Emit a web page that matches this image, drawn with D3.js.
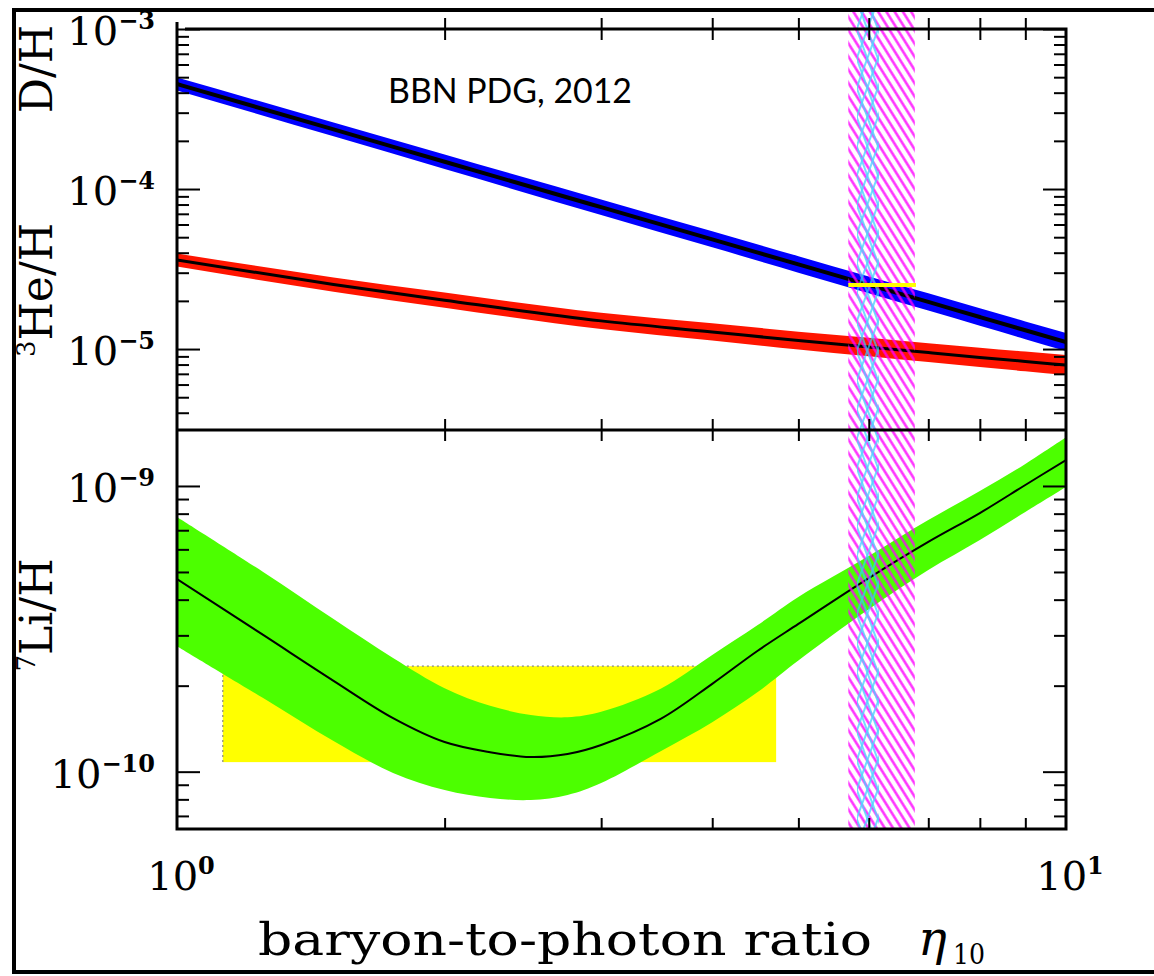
<!DOCTYPE html>
<html>
<head>
<meta charset="utf-8">
<script src="https://cdn.jsdelivr.net/npm/d3@7"></script>
<style>
body { margin: 0; background: #fff; }
svg text { font-family: "DejaVu Serif", "Liberation Serif", serif; fill: #000; }
</style>
</head>
<body>
<svg id="chart" width="1154" height="976"></svg>
<script>
// eta_10 grid for D/H and 3He/H
var eta = [1, 1.5, 2, 3, 4, 5, 6, 7, 8, 9, 10];
var dh = [4.53e-4, 2.36e-4, 1.48e-4, 7.7e-5, 4.85e-5, 3.38e-5, 2.52e-5, 1.97e-5, 1.585e-5, 1.31e-5, 1.107e-5];
var dhErr = [0.098, 0.105, 0.110, 0.117, 0.122, 0.126, 0.129, 0.132, 0.134, 0.136, 0.138];
var he3 = [3.60e-5, 2.53e-5, 2.02e-5, 1.50e-5, 1.28e-5, 1.13e-5, 1.03e-5, 9.5e-6, 8.87e-6, 8.37e-6, 7.94e-6];
var he3Err = [0.098, 0.108, 0.115, 0.125, 0.132, 0.137, 0.142, 0.146, 0.149, 0.152, 0.155];

// 7Li/H with its band
var etaLi = [1, 1.25, 1.5, 1.75, 2, 2.25, 2.5, 2.75, 3, 3.5, 4, 4.5, 5, 6, 7, 8, 9, 10];
var li7 = [4.72e-10, 3.01e-10, 2.08e-10, 1.54e-10, 1.27e-10, 1.17e-10, 1.125e-10, 1.153e-10, 1.24e-10, 1.53e-10, 2.03e-10, 2.65e-10, 3.29e-10, 4.76e-10, 6.37e-10, 8.04e-10, 1.008e-9, 1.233e-9];
var li7Hi = [7.79e-10, 5.00e-10, 3.42e-10, 2.50e-10, 1.96e-10, 1.70e-10, 1.58e-10, 1.55e-10, 1.62e-10, 1.95e-10, 2.56e-10, 3.26e-10, 4.09e-10, 5.69e-10, 7.60e-10, 9.60e-10, 1.194e-9, 1.48e-9];
var li7Lo = [2.75e-10, 1.81e-10, 1.28e-10, 9.9e-11, 8.63e-11, 8.09e-11, 7.96e-11, 8.29e-11, 9.13e-11, 1.18e-10, 1.49e-10, 1.90e-10, 2.45e-10, 3.70e-10, 5.08e-10, 6.47e-10, 8.11e-10, 9.92e-10];

// observations
var etaBand = [5.69, 6.76];   // magenta hatch
var etaCmb = [5.82, 6.16];    // cyan hatch
var dhObsEta = [5.69, 6.78];
var dhObs = 2.51e-5;
var liObsEta = [1.126, 4.72];
var liObs = [1.08e-10, 2.34e-10];

// ticks
var xMajor = [1, 10], xMajorExp = ["0", "1"];
var topMajor = [1e-3, 1e-4, 1e-5], topMajorExp = ["\u22123", "\u22124", "\u22125"];
var botMajor = [1e-9, 1e-10], botMajorExp = ["\u22129", "\u221210"];

var svg = d3.select("#chart"),
    left = 177, right = 1066, top1 = 29, mid = 430, bot = 829;

var x = d3.scaleLog().domain([1, 10]).range([left, right]);
var yTop = d3.scaleLog().domain([3.12e-6, 1e-3]).range([mid, top1]);
var yBot = d3.scaleLog().domain([6.3e-11, 1.57e-9]).range([bot, mid]);

var defs = svg.append("defs");
defs.append("clipPath").attr("id", "clipTop").append("rect")
    .attr("x", left).attr("y", top1).attr("width", right - left).attr("height", mid - top1);
defs.append("clipPath").attr("id", "clipBot").append("rect")
    .attr("x", left).attr("y", mid).attr("width", right - left).attr("height", bot - mid);

function hatch(id, color, w, angle, sw) {
    defs.append("pattern").attr("id", id)
        .attr("patternUnits", "userSpaceOnUse")
        .attr("width", w).attr("height", w)
        .attr("patternTransform", "rotate(" + angle + ")")
      .append("line")
        .attr("x1", w / 2).attr("x2", w / 2).attr("y1", 0).attr("y2", w)
        .attr("stroke", color).attr("stroke-width", sw);
}
hatch("hm", "#ff00ff", 7, -32, 2.4);
hatch("hc1", "#33ccff", 10, -20, 1.6);
hatch("hc2", "#33ccff", 10, 20, 1.6);

var gTop = svg.append("g").attr("clip-path", "url(#clipTop)");
var gBot = svg.append("g").attr("clip-path", "url(#clipBot)");

// ---- top panel bands
var dhData = eta.map(function (e, i) { return {eta: e, v: dh[i], lo: dh[i] / (1 + dhErr[i]), hi: dh[i] * (1 + dhErr[i])}; });
var heData = eta.map(function (e, i) { return {eta: e, v: he3[i], lo: he3[i] / (1 + he3Err[i]), hi: he3[i] * (1 + he3Err[i])}; });

var areaTop = d3.area().curve(d3.curveMonotoneX)
    .x(function (d) { return x(d.eta); })
    .y0(function (d) { return yTop(d.lo); })
    .y1(function (d) { return yTop(d.hi); });
var lineTop = d3.line().curve(d3.curveMonotoneX)
    .x(function (d) { return x(d.eta); })
    .y(function (d) { return yTop(d.v); });

gTop.append("path").datum(dhData).attr("d", areaTop).attr("fill", "#0000ff");
gTop.append("path").datum(heData).attr("d", areaTop).attr("fill", "#ff1500");

// ---- bottom panel
var liData = etaLi.map(function (e, i) { return {eta: e, v: li7[i], lo: li7Lo[i], hi: li7Hi[i]}; });

gBot.append("rect")
    .attr("x", x(liObsEta[0])).attr("y", yBot(liObs[1]))
    .attr("width", x(liObsEta[1]) - x(liObsEta[0]))
    .attr("height", yBot(liObs[0]) - yBot(liObs[1]))
    .attr("fill", "#ffff00");
gBot.append("path")
    .attr("d", "M" + x(liObsEta[0]) + "," + yBot(liObs[0]) + "V" + yBot(liObs[1]) + "H" + x(liObsEta[1]))
    .attr("fill", "none").attr("stroke", "#888").attr("stroke-width", 1.2).attr("stroke-dasharray", "2,3");

var areaBot = d3.area().curve(d3.curveCatmullRom.alpha(0.5))
    .x(function (d) { return x(d.eta); })
    .y0(function (d) { return yBot(d.lo); })
    .y1(function (d) { return yBot(d.hi); });
var lineBot = d3.line().curve(d3.curveCatmullRom.alpha(0.5))
    .x(function (d) { return x(d.eta); })
    .y(function (d) { return yBot(d.v); });

gBot.append("path").datum(liData).attr("d", areaBot).attr("fill", "#4cff00");

// ---- hatched eta bands (run above the top panel too)
var hatchG = svg.append("g").attr("opacity", 0.85);
hatchG.append("rect")
    .attr("x", x(etaBand[0])).attr("y", 12)
    .attr("width", x(etaBand[1]) - x(etaBand[0])).attr("height", bot - 12)
    .attr("fill", "url(#hm)");
["hc1", "hc2"].forEach(function (id) {
    hatchG.append("rect")
        .attr("x", x(etaCmb[0])).attr("y", 12)
        .attr("width", x(etaCmb[1]) - x(etaCmb[0])).attr("height", bot - 12)
        .attr("fill", "url(#" + id + ")");
});

// center lines on top
gTop.append("path").datum(dhData).attr("d", lineTop).attr("fill", "none").attr("stroke", "#000").attr("stroke-width", 4);
gTop.append("path").datum(heData).attr("d", lineTop).attr("fill", "none").attr("stroke", "#000").attr("stroke-width", 3);
gBot.append("path").datum(liData).attr("d", lineBot).attr("fill", "none").attr("stroke", "#000").attr("stroke-width", 2);

// observed D/H
svg.append("line")
    .attr("x1", x(dhObsEta[0])).attr("x2", x(dhObsEta[1]))
    .attr("y1", yTop(dhObs)).attr("y2", yTop(dhObs))
    .attr("stroke", "#ffff00").attr("stroke-width", 4);

// ---- ticks
function isMajor(v) { return Math.abs(Math.log10(v) - Math.round(Math.log10(v))) < 1e-6; }

function yTicks(scale) {
    var all = scale.ticks();
    var minor = all.filter(function (v) { return !isMajor(v); });
    var major = all.filter(isMajor);
    [[d3.axisLeft, left], [d3.axisRight, right]].forEach(function (a) {
        svg.append("g").attr("class", "tick-axis").attr("transform", "translate(" + a[1] + ",0)")
            .call(a[0](scale).tickValues(minor).tickSize(-12).tickFormat(""));
        svg.append("g").attr("class", "tick-axis").attr("transform", "translate(" + a[1] + ",0)")
            .call(a[0](scale).tickValues(major).tickSize(-23).tickFormat(""));
    });
}
yTicks(yTop);
yTicks(yBot);

var xMinor = x.ticks().filter(function (v) { return !isMajor(v); });
[[d3.axisTop, top1], [d3.axisBottom, top1], [d3.axisTop, mid], [d3.axisBottom, mid], [d3.axisBottom, bot]].forEach(function (a) {
    svg.append("g").attr("class", "tick-axis").attr("transform", "translate(0," + a[1] + ")")
        .call(a[0](x).tickValues(xMinor).tickSize(-11).tickFormat(""));
});
svg.selectAll(".tick-axis .domain").remove();
svg.selectAll(".tick-axis line").attr("stroke", "#000").attr("stroke-width", 2);

// ---- frames
svg.append("path")
    .attr("d", "M" + left + ",22V" + bot + "H" + right + "V" + top1 + "H" + (left + 8) +
          "M" + left + "," + mid + "H" + right)
    .attr("fill", "none").attr("stroke", "#000").attr("stroke-width", 3);
svg.append("path")
    .attr("d", "M1154,10H14V972H1154")
    .attr("fill", "none").attr("stroke", "#000").attr("stroke-width", 4);

// ---- tick labels
function yLabels(vals, exps, scale) {
    vals.forEach(function (v, i) {
        var t = svg.append("text").attr("x", 155).attr("y", scale(v) + 16)
            .attr("text-anchor", "end").attr("font-size", 40);
        t.append("tspan").text("10");
        t.append("tspan").attr("font-size", 24).attr("font-weight", "bold").attr("dy", -16).text(exps[i]);
    });
}
yLabels(topMajor, topMajorExp, yTop);
yLabels(botMajor, botMajorExp, yBot);

xMajor.forEach(function (v, i) {
    var t = svg.append("text").attr("x", x(v) + 4).attr("y", 890)
        .attr("text-anchor", "middle").attr("font-size", 40);
    t.append("tspan").text("10");
    t.append("tspan").attr("font-size", 24).attr("font-weight", "bold").attr("dy", -16).text(xMajorExp[i]);
});

// ---- axis titles
svg.append("text").attr("x", 258).attr("y", 955).attr("font-size", 44)
    .attr("textLength", 614).attr("lengthAdjust", "spacingAndGlyphs")
    .text("baryon-to-photon ratio");
svg.append("text").attr("x", 918).attr("y", 955).attr("font-size", 48)
    .attr("font-style", "italic").text("\u03b7");
svg.append("text").attr("x", 953).attr("y", 964).attr("font-size", 27)
    .attr("textLength", 32).attr("lengthAdjust", "spacingAndGlyphs").text("10");

svg.append("text").attr("transform", "translate(52,69) rotate(-90)")
    .attr("text-anchor", "middle").attr("font-size", 44).text("D/H");

var he = svg.append("text").attr("transform", "translate(52,290) rotate(-90)")
    .attr("text-anchor", "middle").attr("font-size", 44);
he.append("tspan").attr("font-size", 26).attr("dy", -17).text("3");
he.append("tspan").attr("dy", 17).text("He/H");

var li = svg.append("text").attr("transform", "translate(52,615) rotate(-90)")
    .attr("text-anchor", "middle").attr("font-size", 44);
li.append("tspan").attr("font-size", 26).attr("dy", -17).text("7");
li.append("tspan").attr("dy", 17).text("Li/H");

// title
svg.append("text").attr("x", 388).attr("y", 103)
    .style("font-family", "Lato, 'Open Sans', sans-serif").attr("font-size", 34)
    .attr("textLength", 244).attr("lengthAdjust", "spacingAndGlyphs")
    .text("BBN PDG, 2012");
</script>
</body>
</html>
